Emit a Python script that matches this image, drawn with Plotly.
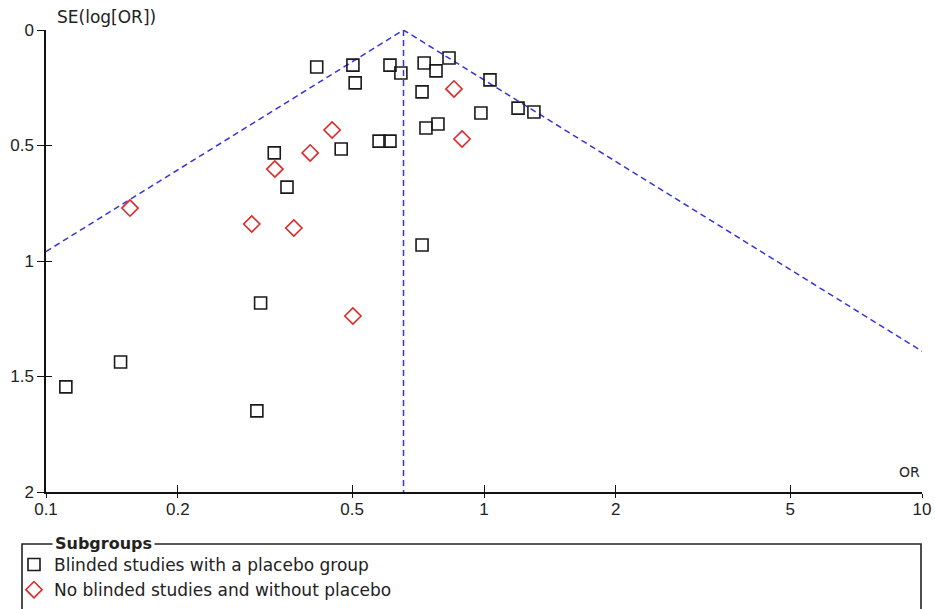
import numpy as np
import plotly.graph_objects as go

# ---- data ----
blinded_or = [0.111, 0.148, 0.303, 0.309, 0.332, 0.355, 0.415, 0.472, 0.502, 0.508,
              0.576, 0.610, 0.610, 0.646, 0.722, 0.730, 0.777, 0.832, 0.785, 0.737,
              0.722, 0.984, 1.032, 1.196, 1.300]
blinded_se = [1.545, 1.437, 1.649, 1.182, 0.532, 0.680, 0.160, 0.515, 0.152, 0.229,
              0.481, 0.481, 0.152, 0.186, 0.268, 0.143, 0.177, 0.121, 0.407, 0.424,
              0.931, 0.359, 0.216, 0.338, 0.355]
open_or = [0.1555, 0.295, 0.333, 0.368, 0.401, 0.450, 0.502, 0.854, 0.891]
open_se = [0.771, 0.840, 0.602, 0.857, 0.532, 0.433, 1.238, 0.255, 0.472]

pooled_or = 0.655
x_edges = [0.1, 10]
x_ticks = [0.1, 0.2, 0.5, 1, 2, 5, 10]
x_ticklabels = ["0.1", "0.2", "0.5", "1", "2", "5", "10"]
y_ticks = [0, 0.5, 1, 1.5, 2]
y_ticklabels = ["0", "0.5", "1", "1.5", "2"]

# funnel (pseudo 95% limits)
funnel_x = [x_edges[0], pooled_or, x_edges[1]]
funnel_y = [abs(np.log(v) - np.log(pooled_or)) / 1.96 for v in funnel_x]

BLUE = "#3434dc"
TXT = "#222222"

fig = go.Figure()
fig.add_trace(go.Scatter(x=funnel_x, y=funnel_y, mode="lines",
                         line=dict(color=BLUE, width=1.5, dash="6px,4px"),
                         showlegend=False, hoverinfo="skip"))
fig.add_trace(go.Scatter(x=[pooled_or, pooled_or], y=[0, 2], mode="lines",
                         line=dict(color=BLUE, width=1.5, dash="6px,4px"),
                         showlegend=False, hoverinfo="skip"))
fig.add_trace(go.Scatter(x=blinded_or, y=blinded_se, mode="markers",
                         name="Blinded studies with a placebo group",
                         marker=dict(symbol="square-open", size=12,
                                     color="#1a1a1a", line=dict(width=1.6, color="#1a1a1a"))))
fig.add_trace(go.Scatter(x=open_or, y=open_se, mode="markers",
                         name="No blinded studies and without placebo",
                         marker=dict(symbol="diamond-open", size=12.5,
                                     color="#e02828", line=dict(width=1.6, color="#e02828"))))
# empty trace to create the overlay axes used for crossing ticks
fig.add_trace(go.Scatter(x=[], y=[], xaxis="x2", yaxis="y2", showlegend=False))

W, H = 935, 609
L, R, T, B = 46, 13, 30, 117
pw, ph = W - L - R, H - T - B


def px(xp):
    return (xp - L) / pw


def py(yp):
    return (H - B - yp) / ph


tickfont = dict(family="Liberation Sans, Arial", size=17, color=TXT)

fig.update_layout(
    width=W, height=H,
    margin=dict(l=L, r=R, t=T, b=B, pad=0, autoexpand=False),
    paper_bgcolor="white", plot_bgcolor="white",
    xaxis=dict(type="log", range=[-1, 1], tickvals=x_ticks, ticktext=x_ticklabels,
               ticks="outside", ticklen=4, tickwidth=1.3, tickcolor="#111",
               showline=True, linecolor="#111", linewidth=1.5, automargin=False,
               ticklabelstandoff=-3,
               showgrid=False, zeroline=False, tickfont=tickfont),
    yaxis=dict(range=[2, 0], tickvals=y_ticks, ticktext=y_ticklabels,
               ticks="outside", ticklen=7, tickwidth=1.3, tickcolor="#111",
               showline=True, linecolor="#111", linewidth=1.5, automargin=False,
               showgrid=False, zeroline=False, tickfont=tickfont),
    xaxis2=dict(type="log", range=[-1, 1], tickvals=x_ticks, overlaying="x", anchor="y2",
                ticks="inside", ticklen=7, tickwidth=1.3, tickcolor="#111",
                showticklabels=False, showline=False, showgrid=False, zeroline=False),
    yaxis2=dict(range=[2, 0], tickvals=y_ticks, overlaying="y", anchor="x2",
                ticks="inside", ticklen=6, tickwidth=1.3, tickcolor="#111",
                showticklabels=False, showline=False, showgrid=False, zeroline=False),
    showlegend=True,
    legend=dict(x=px(14), y=py(547), xanchor="left", yanchor="top",
                bgcolor="rgba(0,0,0,0)", borderwidth=0,
                font=dict(family="DejaVu Sans", size=17, color=TXT),
                tracegroupgap=0, itemwidth=30),
    hovermode=False,
)

fig.add_shape(type="rect", xref="paper", yref="paper",
              x0=px(22), x1=px(921), y0=py(544), y1=py(660),
              line=dict(color="#222", width=1.6), fillcolor="rgba(0,0,0,0)", layer="above")

fig.add_annotation(text="<b>Subgroups</b>", xref="paper", yref="paper",
                   x=px(52), y=py(543), xanchor="left", yanchor="middle", showarrow=False,
                   bgcolor="white", borderpad=2,
                   font=dict(family="DejaVu Sans", size=16, color=TXT))
fig.add_annotation(text="SE(log[OR])", xref="paper", yref="paper",
                   x=px(55), y=py(17), xanchor="left", yanchor="middle", showarrow=False,
                   font=dict(family="DejaVu Sans", size=17, color=TXT))
fig.add_annotation(text="OR", xref="paper", yref="paper",
                   x=1, y=py(482), xanchor="right", yanchor="bottom", showarrow=False,
                   font=dict(family="DejaVu Sans", size=14, color=TXT))

fig.write_html("out.html", config={"displayModeBar": False})
